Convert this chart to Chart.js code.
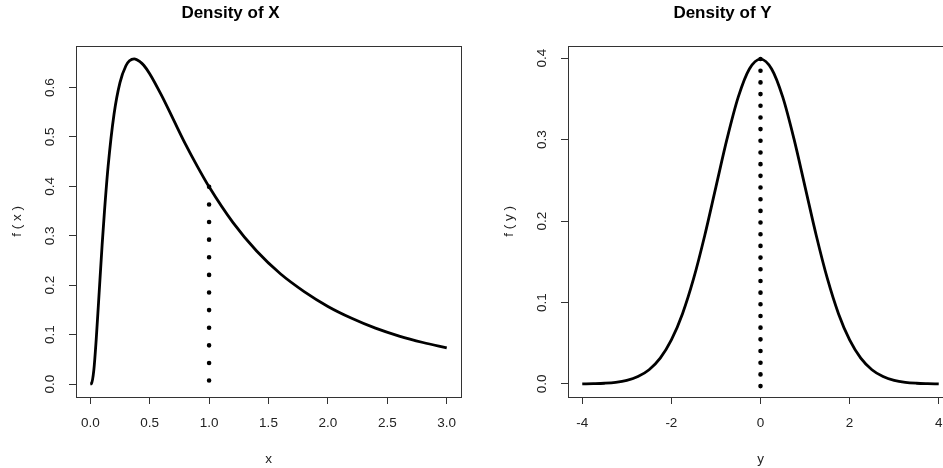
<!DOCTYPE html>
<html>
<head>
<meta charset="utf-8">
<script src="https://cdn.jsdelivr.net/npm/chart.js@4/dist/chart.umd.min.js"></script>
<style>
  html, body { margin: 0; padding: 0; background: #fff; overflow: hidden; width: 943px; height: 468px; }
  .panel { position: absolute; top: 0; width: 537px; height: 468px; }
  #panelX { left: 0; }
  #panelY { left: 492px; }
</style>
</head>
<body>
<div class="panel" id="panelX"><canvas id="chartX" width="537" height="468"></canvas></div>
<div class="panel" id="panelY"><canvas id="chartY" width="537" height="468"></canvas></div>
<script>
// density of X
const xGrid = [0, 0.01, 0.03, 0.05, 0.07, 0.1, 0.12, 0.15, 0.2, 0.25, 0.3, 0.33, 0.37, 0.42, 0.45, 0.5,
  0.6, 0.7, 0.8, 0.9, 1.0, 1.2, 1.4, 1.6, 1.8, 2.0, 2.2, 2.4, 2.6, 2.8, 3.0];
const fx = [0, 0.001, 0.028, 0.090, 0.166, 0.282, 0.351, 0.440, 0.546, 0.610, 0.644, 0.654, 0.658, 0.652, 0.645, 0.628,
  0.584, 0.535, 0.486, 0.441, 0.399, 0.327, 0.269, 0.223, 0.187, 0.157, 0.133, 0.113, 0.097, 0.084, 0.073];

// density of Y
const yGrid = [-4, -3.75, -3.5, -3.25, -3, -2.75, -2.5, -2.25, -2, -1.75, -1.5, -1.25, -1, -0.75, -0.5, -0.25, 0,
  0.25, 0.5, 0.75, 1, 1.25, 1.5, 1.75, 2, 2.25, 2.5, 2.75, 3, 3.25, 3.5, 3.75, 4];
const fy = [0.0001, 0.0004, 0.0009, 0.002, 0.0044, 0.0091, 0.0175, 0.0317, 0.054, 0.0863, 0.1295, 0.1826, 0.242, 0.3011, 0.3521, 0.3867, 0.3989,
  0.3867, 0.3521, 0.3011, 0.242, 0.1826, 0.1295, 0.0863, 0.054, 0.0317, 0.0175, 0.0091, 0.0044, 0.002, 0.0009, 0.0004, 0.0001];

// dotted marker lines
const markX = [1, 1];
const markFx = [0.399, 0];
const markY = [0, 0];
const markFy = [0.3989, -0.008];

// tick labels
const ticksXleft = [0, 0.5, 1, 1.5, 2, 2.5, 3];
const ticksYleft = [0, 0.1, 0.2, 0.3, 0.4, 0.5, 0.6];
const ticksXright = [-4, -2, 0, 2, 4];
const ticksYright = [0, 0.1, 0.2, 0.3, 0.4];

const FONT = "'Liberation Sans', Arial, sans-serif";
const INK = "#222";

const boxPlugin = {
  id: "box",
  afterDatasetsDraw(chart) {
    const { ctx, chartArea: a } = chart;
    ctx.save();
    ctx.strokeStyle = "#333";
    ctx.lineWidth = 1;
    ctx.strokeRect(Math.round(a.left) + 0.5, Math.round(a.top) + 0.5,
      Math.round(a.right - a.left), Math.round(a.bottom - a.top));
    ctx.restore();
  }
};

function zip(xs, ys) {
  return xs.map((x, i) => ({ x: x, y: ys[i] }));
}

function makePanel(id, cfg) {
  new Chart(document.getElementById(id), {
    type: "scatter",
    data: {
      datasets: [{
        data: zip(cfg.curveX, cfg.curveY),
        showLine: true,
        borderColor: "#000",
        borderWidth: 2.8,
        pointRadius: 0,
        cubicInterpolationMode: "monotone"
      }, {
        data: zip(cfg.markX, cfg.markY),
        showLine: true,
        borderColor: "#000",
        borderWidth: 4.6,
        borderCapStyle: "round",
        borderDash: [0.01, cfg.dotGap],
        pointRadius: 0
      }]
    },
    options: {
      responsive: false,
      animation: false,
      layout: { padding: { left: 0, right: 76, top: 0, bottom: 0 } },
      plugins: {
        legend: { display: false },
        tooltip: { enabled: false },
        title: {
          display: true,
          text: cfg.title,
          color: "#000",
          font: { family: FONT, size: 17, weight: "bold", lineHeight: 1.2 },
          padding: { top: 3, bottom: 22.6 }
        }
      },
      scales: {
        x: {
          type: "linear",
          min: cfg.xMin, max: cfg.xMax,
          afterFit: s => { s.height = 71; },
          afterBuildTicks: s => { s.ticks = cfg.xTicks.map(v => ({ value: v })); },
          border: { display: false },
          grid: { drawOnChartArea: false, tickLength: 7, color: "#333", lineWidth: 1 },
          ticks: {
            color: INK, padding: 11,
            font: { family: FONT, size: 13.5 },
            callback: cfg.xFmt,
            maxRotation: 0, autoSkip: false
          },
          title: {
            display: true, text: cfg.xLabel, color: INK,
            font: { family: FONT, size: 13.5, lineHeight: 1 },
            padding: { top: 0, bottom: 2 }
          }
        },
        y: {
          type: "linear",
          min: cfg.yMin, max: cfg.yMax,
          afterFit: s => { s.width = 76; },
          afterBuildTicks: s => { s.ticks = cfg.yTicks.map(v => ({ value: v })); },
          border: { display: false },
          grid: { drawOnChartArea: false, tickLength: 7, color: "#333", lineWidth: 1 },
          ticks: {
            color: INK, padding: 9.5,
            font: { family: FONT, size: 13.5 },
            minRotation: 90, maxRotation: 90,
            crossAlign: "center",
            autoSkip: false,
            callback: v => v.toFixed(1)
          },
          title: {
            display: true, text: cfg.yLabel, color: INK,
            font: { family: FONT, size: 13.5, lineHeight: 1 },
            padding: { top: 11, bottom: 0 }
          }
        }
      }
    },
    plugins: [boxPlugin]
  });
}

makePanel("chartX", {
  title: "Density of X",
  curveX: xGrid, curveY: fx,
  markX: markX, markY: markFx, dotGap: 17.6,
  xMin: -0.12, xMax: 3.12, yMin: -0.0263, yMax: 0.684,
  xTicks: ticksXleft, yTicks: ticksYleft,
  xFmt: v => v.toFixed(1),
  xLabel: "x", yLabel: "f ( x )"
});

makePanel("chartY", {
  title: "Density of Y",
  curveX: yGrid, curveY: fy,
  markX: markY, markY: markFy, dotGap: 11.67,
  xMin: -4.32, xMax: 4.32, yMin: -0.016, yMax: 0.4149,
  xTicks: ticksXright, yTicks: ticksYright,
  xFmt: v => String(v),
  xLabel: "y", yLabel: "f ( y )"
});
</script>
</body>
</html>
